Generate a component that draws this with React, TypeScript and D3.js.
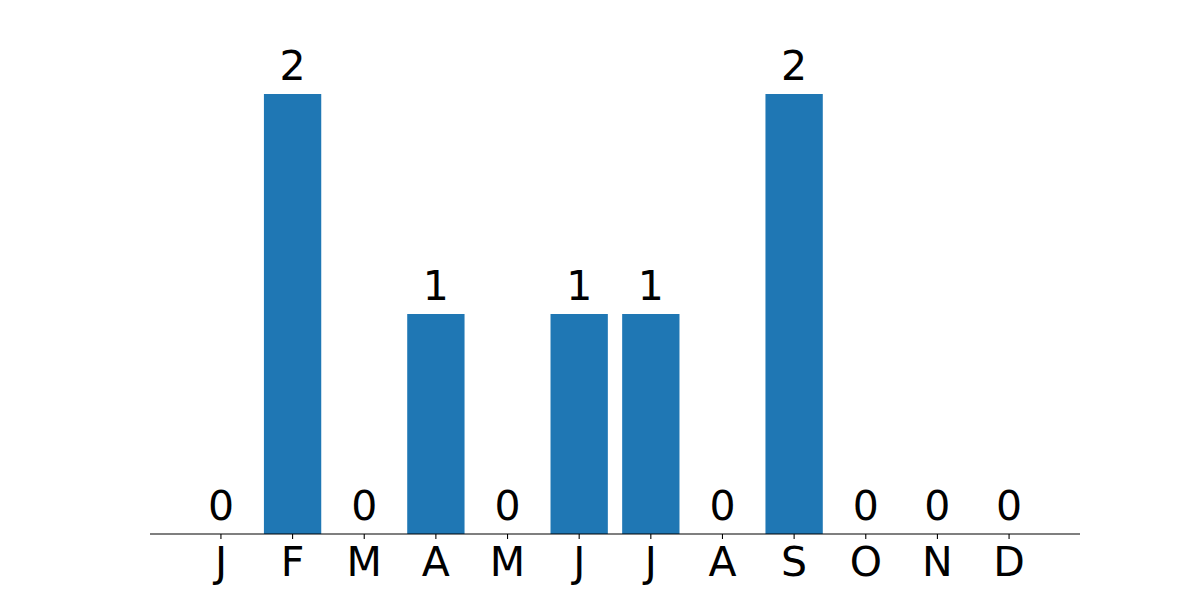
import React from "react";
import * as d3 from "d3";

const months = ["J", "F", "M", "A", "M", "J", "J", "A", "S", "O", "N", "D"];
const counts = [0, 2, 0, 1, 0, 1, 1, 0, 2, 0, 0, 0];

export default function App() {
  const W = 1200, H = 600;
  const left = 150, right = 1080, top = 72, bottom = 534;
  const idx = months.map((_, i) => i);
  const x = d3.scaleLinear().domain([-0.99, 11.99]).range([left, right]);
  const y = d3.scaleLinear().domain([0, 2.1]).range([bottom, top]);
  const bw = x(0.4) - x(-0.4);
  const font = "DejaVu Sans, sans-serif";
  return (
    <svg width={W} height={H} style={{ display: "block", position: "absolute", left: 0, top: 0 }}>
      <rect width={W} height={H} fill="#fff" />
      {idx.map((i) => (
        <rect key={"b" + i} x={x(i) - bw / 2} y={y(counts[i])} width={bw} height={bottom - y(counts[i])} fill="#1f77b4" />
      ))}
      {idx.map((i) => (
        <text key={"v" + i} x={x(i)} y={y(counts[i]) - 14} textAnchor="middle" fontFamily={font} fontSize={41} fill="#000">
          {counts[i]}
        </text>
      ))}
      <line x1={left} x2={right} y1={bottom} y2={bottom} stroke="#000" strokeWidth={1.1} />
      {idx.map((i) => (
        <g key={"t" + i}>
          <line x1={x(i)} x2={x(i)} y1={bottom} y2={bottom + 5} stroke="#000" strokeWidth={1.1} />
          <text x={x(i)} y={576} textAnchor="middle" fontFamily={font} fontSize={41} fill="#000">
            {months[i]}
          </text>
        </g>
      ))}
    </svg>
  );
}
